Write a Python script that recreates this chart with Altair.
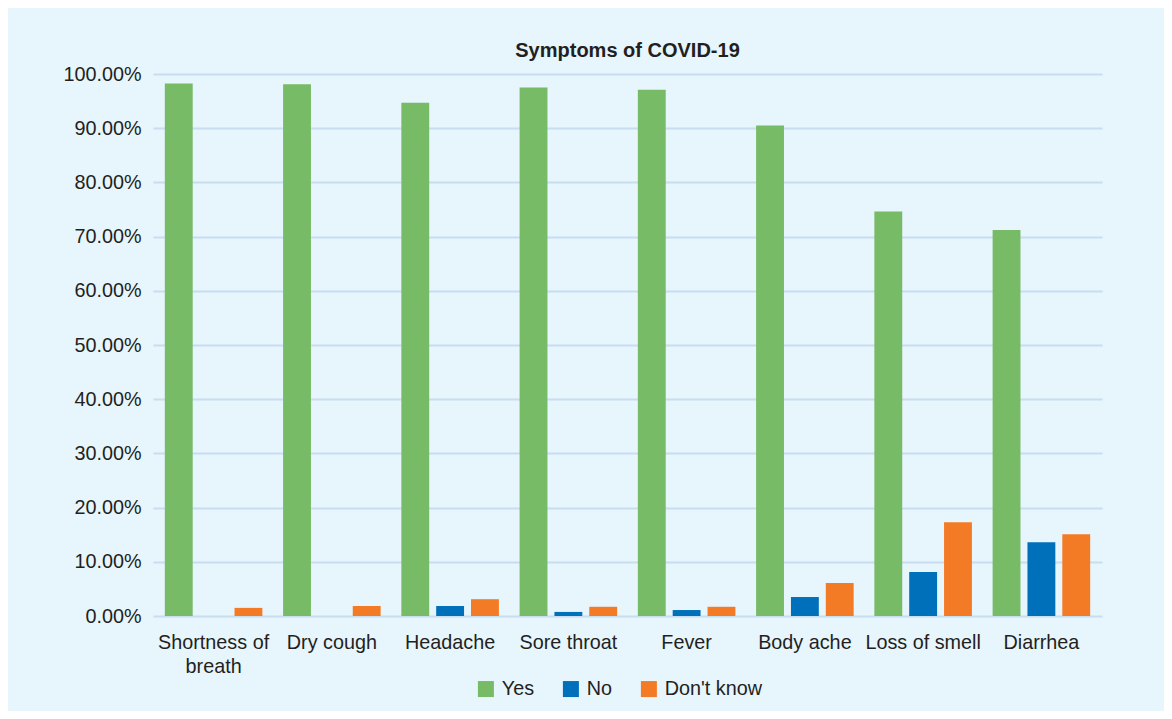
import altair as alt
import pandas as pd

categories = ["Shortness of breath", "Dry cough", "Headache", "Sore throat",
              "Fever", "Body ache", "Loss of smell", "Diarrhea"]
series = ["Yes", "No", "Don't know"]
yes_vals = [98.25, 98.1, 94.7, 97.5, 97.1, 90.5, 74.65, 71.2]
no_vals = [0.0, 0.0, 1.85, 0.75, 1.1, 3.5, 8.1, 13.6]
dk_vals = [1.5, 1.85, 3.1, 1.7, 1.7, 6.1, 17.3, 15.1]
colors = ["#77BB66", "#0070BB", "#F47B25"]

rows = []
for i, c in enumerate(categories):
    for s, vals in zip(series, [yes_vals, no_vals, dk_vals]):
        rows.append({"Symptom": c, "Response": s, "Value": vals[i] / 100.0})
df = pd.DataFrame(rows)

TEXT = "#231F20"
FONT = "Liberation Sans"

bars = alt.Chart(df).mark_bar().encode(
    x=alt.X("Symptom:N", sort=categories,
            scale=alt.Scale(paddingInner=0.175, paddingOuter=0.1),
            axis=alt.Axis(title=None, labelAngle=0, domain=False, ticks=False,
                          labelFontSize=19.8, labelPadding=16, labelColor=TEXT,
                          labelFont=FONT, labelLineHeight=24, labelBaseline="top",
                          labelExpr="datum.label == 'Shortness of breath' ? ['Shortness of', 'breath'] : datum.label")),
    xOffset=alt.XOffset("Response:N", sort=series,
                        scale=alt.Scale(paddingInner=0.2, paddingOuter=0)),
    y=alt.Y("Value:Q", scale=alt.Scale(domain=[0, 1], nice=False),
            axis=alt.Axis(title=None, format=".2%", values=[i / 10 for i in range(11)],
                          domain=False, ticks=False, labelFontSize=19.8,
                          labelPadding=12, labelColor=TEXT, labelFont=FONT,
                          gridColor="#C8DDF0", gridWidth=2)),
    color=alt.Color("Response:N", sort=series,
                    scale=alt.Scale(domain=series, range=colors),
                    legend=alt.Legend(title=None, orient="none", direction="horizontal",
                                      legendX=323, legendY=605,
                                      symbolType="square", symbolSize=256,
                                      symbolStrokeWidth=0, symbolOpacity=1,
                                      labelFontSize=19.8, labelColor=TEXT,
                                      labelFont=FONT, columnPadding=26,
                                      labelOffset=6)),
)

chart = bars.properties(
    width=949,
    height=542,
    title=alt.Title("Symptoms of COVID-19", fontSize=20, fontWeight="bold",
                    color=TEXT, font=FONT, anchor="middle", offset=3),
    background="#E7F5FD",
    autosize=alt.AutoSizeParams(type="none"),
    padding={"left": 145, "top": 66, "right": 62, "bottom": 95},
).configure_view(stroke=None)

chart.save("out.html", embed_options={"renderer": "svg", "actions": False})
